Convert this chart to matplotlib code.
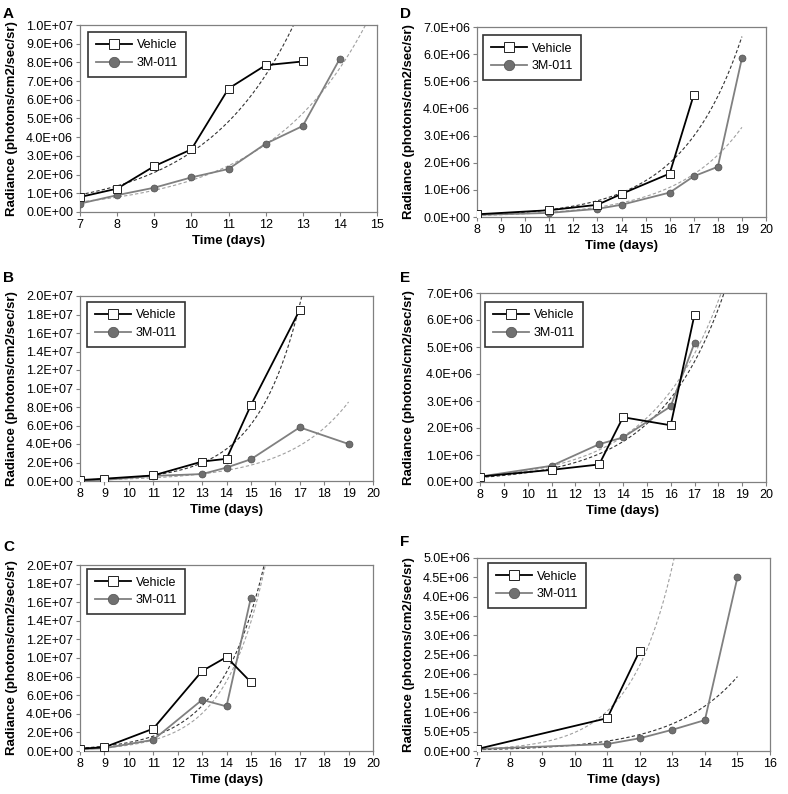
import numpy as np
import matplotlib
matplotlib.use("Agg")
import matplotlib.pyplot as plt
from matplotlib.ticker import FuncFormatter, MultipleLocator

plt.rcParams['font.family'] = ['Liberation Sans', 'DejaVu Sans']

# ---------------- data ----------------
# Panel A
a_vx = [7, 8, 9, 10, 11, 12, 13]
a_vy = [0.8e6, 1.25e6, 2.45e6, 3.35e6, 6.6e6, 7.85e6, 8.05e6]
a_mx = [7, 8, 9, 10, 11, 12, 13, 14]
a_my = [0.45e6, 0.9e6, 1.3e6, 1.85e6, 2.3e6, 3.65e6, 4.6e6, 8.2e6]
# Panel B
b_vx = [8, 9, 11, 13, 14, 15, 17]
b_vy = [0.1e6, 0.25e6, 0.6e6, 2.1e6, 2.4e6, 8.2e6, 18.5e6]
b_mx = [8, 9, 11, 13, 14, 15, 17, 19]
b_my = [0.07e6, 0.12e6, 0.55e6, 0.75e6, 1.45e6, 2.35e6, 5.8e6, 4.0e6]
# Panel C
c_vx = [8, 9, 11, 13, 14, 15]
c_vy = [0.25e6, 0.4e6, 2.4e6, 8.6e6, 10.1e6, 7.4e6]
c_mx = [8, 9, 11, 13, 14, 15]
c_my = [0.2e6, 0.3e6, 1.2e6, 5.5e6, 4.8e6, 16.5e6]
# Panel D
d_vx = [8, 11, 13, 14, 16, 17]
d_vy = [0.1e6, 0.25e6, 0.45e6, 0.85e6, 1.6e6, 4.5e6]
d_mx = [8, 11, 13, 14, 16, 17, 18, 19]
d_my = [0.08e6, 0.15e6, 0.3e6, 0.45e6, 0.9e6, 1.5e6, 1.85e6, 5.85e6]
# Panel E
e_vx = [8, 11, 13, 14, 16, 17]
e_vy = [0.2e6, 0.45e6, 0.65e6, 2.4e6, 2.1e6, 6.2e6]
e_mx = [8, 11, 13, 14, 16, 17]
e_my = [0.2e6, 0.6e6, 1.4e6, 1.65e6, 2.8e6, 5.15e6]
# Panel F
f_vx = [7, 11, 12]
f_vy = [0.05e6, 0.85e6, 2.6e6]
f_mx = [7, 11, 12, 13, 14, 15]
f_my = [0.05e6, 0.18e6, 0.33e6, 0.55e6, 0.8e6, 4.5e6]

# ---------------- style ----------------
W, H = 788, 794
fig = plt.figure(figsize=(W / 100, H / 100), dpi=100)

DARK = '#000000'
GREY = '#808080'
TR_DARK = '#333333'
TR_LIGHT = '#a0a0a0'


def fmt(v, pos):
    return f"{v:.1E}"


def px_axes(l, t, r, b):
    return [l / W, 1 - b / H, (r - l) / W, (b - t) / H]


def expfit(x, y, xend):
    x = np.asarray(x, float)
    k, c = np.polyfit(x, np.log(np.asarray(y, float)), 1)
    xs = np.linspace(x[0], xend, 300)
    return xs, np.exp(c + k * xs)


panels = [
    ('A', (80, 25, 377, 212), (7, 15), 1.0e7, 1.0e6, (a_vx, a_vy, a_mx, a_my), (15, 15), (TR_DARK, TR_LIGHT), (88, 32), (3, 14), 12),
    ('B', (80, 296, 373, 481), (8, 20), 2.0e7, 2.0e6, (b_vx, b_vy, b_mx, b_my), (19, 19), (TR_DARK, TR_LIGHT), (87, 302), (3, 278), 12),
    ('C', (80, 565, 373, 751), (8, 20), 2.0e7, 2.0e6, (c_vx, c_vy, c_mx, c_my), (17, 17), (TR_DARK, TR_LIGHT), (87, 569), (3, 547), 12),
    ('D', (477, 27, 766, 217), (8, 20), 7.0e6, 1.0e6, (d_vx, d_vy, d_mx, d_my), (19, 19), (TR_DARK, TR_LIGHT), (483, 35), (400, 14), 409),
    ('E', (480, 293, 766, 482), (8, 20), 7.0e6, 1.0e6, (e_vx, e_vy, e_mx, e_my), (19, 19), (TR_DARK, TR_LIGHT), (485, 302), (400, 278), 409),
    ('F', (477, 558, 770, 751), (7, 16), 5.0e6, 5.0e5, (f_vx, f_vy, f_mx, f_my), (15, 15), (TR_LIGHT, TR_DARK), (488, 563), (400, 542), 409),
]

for (letter, box, xlim, ymax, ystep, data, tends, tcols, legpos, lpos, ylx) in panels:
    ax = fig.add_axes(px_axes(*box))
    vx, vy, mx, my = data
    # exponential trendlines fitted to each series
    xs, ys = expfit(vx, vy, tends[0])
    ax.plot(xs, ys, color=tcols[0], lw=0.8, ls=(0, (3, 2)), zorder=2)
    xs, ys = expfit(mx, my, tends[1])
    ax.plot(xs, ys, color=tcols[1], lw=0.8, ls=(0, (3, 2)), zorder=2)
    # series
    ax.plot(vx, vy, color=DARK, lw=1.3, marker='s', ms=5.2, mfc='white', mec='#222222',
            mew=0.7, label='Vehicle', zorder=4)
    ax.plot(mx, my, color=GREY, lw=1.3, marker='o', ms=5, mfc='#707070', mec='#505050',
            mew=0.5, label='3M-011', zorder=3)
    ax.set_xlim(*xlim)
    ax.set_ylim(0, ymax)
    ax.xaxis.set_major_locator(MultipleLocator(1))
    ax.yaxis.set_major_locator(MultipleLocator(ystep))
    ax.yaxis.set_major_formatter(FuncFormatter(fmt))
    for s in ax.spines.values():
        s.set_color('#808080')
        s.set_linewidth(0.9)
    ax.tick_params(axis='both', direction='out', length=3, width=0.8, color='#808080',
                   labelsize=9, pad=2, labelcolor='black')
    ax.set_xlabel('Time (days)', fontsize=9.5, fontweight='bold', labelpad=3)
    # legend
    leg = ax.legend(loc='upper left',
                    bbox_to_anchor=(legpos[0] / W, 1 - legpos[1] / H),
                    bbox_transform=fig.transFigure,
                    fontsize=9, frameon=True, fancybox=False, handlelength=2.9,
                    borderpad=0.6, labelspacing=0.45, handletextpad=0.4,
                    borderaxespad=0, markerscale=1.5)
    leg.get_frame().set_edgecolor('black')
    leg.get_frame().set_linewidth(1.2)
    fig.text(lpos[0] / W, 1 - lpos[1] / H, letter, fontsize=11, fontweight='bold',
             ha='left', va='center')
    cy = (box[1] + box[3]) / 2
    fig.text(ylx / W, 1 - cy / H, 'Radiance (photons/cm2/sec/sr)', rotation=90,
             fontsize=9.5, fontweight='bold', ha='center', va='center')

fig.savefig('out.png', dpi=100)
